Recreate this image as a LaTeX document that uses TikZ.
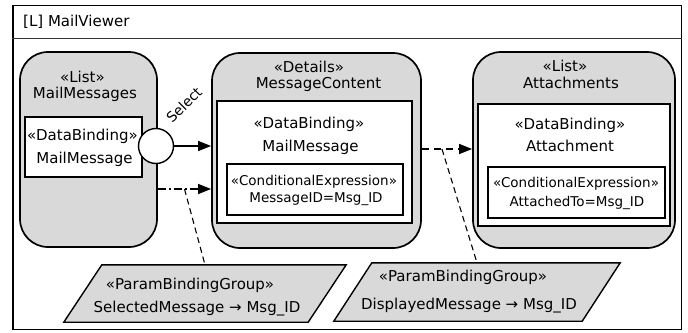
\documentclass[tikz,border=0pt]{standalone}
\usepackage{fontspec}
\setmainfont{DejaVu Sans}
\usetikzlibrary{arrows.meta,calc}
\definecolor{boxgray}{HTML}{D9D9D9}
\begin{document}
\begin{tikzpicture}[x=1pt,y=-1pt,
  frame/.style={draw, line width=1.3pt, fill=white, inner sep=0pt},
  viewbox/.style={draw, line width=1.7pt, fill=boxgray, rounded corners=28pt, inner sep=0pt},
  bindbox/.style={draw, line width=1.2pt, fill=white, inner sep=0pt},
  pgbox/.style={inner sep=0pt},
  pgshape/.style={draw, line width=1.4pt, fill=boxgray, line join=miter},
  txt/.style={font=\fontsize{15}{17}\selectfont, inner sep=0pt, anchor=base},
  smalltxt/.style={font=\fontsize{13.5}{16}\selectfont, inner sep=0pt, anchor=base},
  flow/.style={line width=1.3pt, -{Triangle[length=13pt,width=10pt]}},
  dashdotpat/.style={dash pattern=on 8pt off 3pt on 2pt off 3pt},
  link/.style={line width=1.1pt, dash pattern=on 6pt off 4pt},
  selcircle/.style={circle, draw, line width=1.4pt, fill=white, minimum size=35pt, inner sep=0pt}
]
\useasboundingbox (0,0) rectangle (688,332);

% outer frame with title compartment
\node[frame, minimum width=668.5pt, minimum height=324pt] (frame) at (347.25,167.5) {};
\coordinate (titleline) at (0,38.5);
\draw[line width=1.3pt, black!80] (frame.west |- titleline) -- (frame.east |- titleline);
\node[font=\fontsize{15}{17}\selectfont, inner sep=0pt, anchor=base west] (title) at (23,27) {[L] MailViewer};

% view containers
\node[viewbox, minimum width=137pt, minimum height=195pt] (mm) at (88.5,149.5) {};
\node[viewbox, minimum width=209pt, minimum height=195pt] (mc) at (316.5,150.5) {};
\node[viewbox, minimum width=202pt, minimum height=196pt] (at) at (574,150) {};

% data bindings
\node[bindbox, minimum width=117pt, minimum height=60pt] (mmb) at (83.5,147) {};
\node[bindbox, minimum width=195pt, minimum height=122pt] (mcb) at (314.5,162) {};
\node[bindbox, minimum width=192pt, minimum height=122pt] (atb) at (574,165) {};

% conditional expressions
\node[bindbox, minimum width=176pt, minimum height=51pt] (mcc) at (315,189.5) {};
\node[bindbox, minimum width=177pt, minimum height=51pt] (atc) at (576.5,192.5) {};

% labels of MailMessages
\node[txt] (mm1) at (82.5,82) {«List»};
\node[txt] (mm2) at (85,98.3) {MailMessages};
\node[txt] (mmb1) at (82.5,140) {«DataBinding»};
\node[txt] (mmb2) at (84.5,163.3) {MailMessage};

% labels of MessageContent
\node[txt] (mc1) at (309,72.3) {«Details»};
\node[txt] (mc2) at (318.5,88.3) {MessageContent};
\node[txt] (mcb1) at (309,128.3) {«DataBinding»};
\node[txt] (mcb2) at (310.5,151.7) {MailMessage};
\node[smalltxt] (mcc1) at (314,185) {«ConditionalExpression»};
\node[smalltxt] (mcc2) at (316,202.7) {MessageID=Msg\_ID};

% labels of Attachments
\node[txt] (at1) at (565,71) {«List»};
\node[txt] (at2) at (571,88.3) {Attachments};
\node[txt] (atb1) at (570,129.3) {«DataBinding»};
\node[txt] (atb2) at (570,151) {Attachment};
\node[smalltxt] (atc1) at (576,187.7) {«ConditionalExpression»};
\node[smalltxt] (atc2) at (577,206.7) {AttachedTo=Msg\_ID};

% parameter binding groups
\node[pgbox, minimum width=244pt, minimum height=57pt] (pg1) at (205,293.5) {};
\draw[pgshape] ([xshift=19pt]pg1.north west) -- ([xshift=19pt]pg1.north east)
  -- ([xshift=-19pt]pg1.south east) -- ([xshift=-19pt]pg1.south west) -- cycle;
\node[pgbox, minimum width=248pt, minimum height=58pt] (pg2) at (477,292) {};
\draw[pgshape] ([xshift=19pt]pg2.north west) -- ([xshift=19pt]pg2.north east)
  -- ([xshift=-19pt]pg2.south east) -- ([xshift=-19pt]pg2.south west) -- cycle;
\node[txt] (pg1a) at (190,289.3) {«ParamBindingGroup»};
\node[txt] (pg1b) at (197,312.7) {SelectedMessage → Msg\_ID};
\node[txt] (pg2a) at (463,281.7) {«ParamBindingGroup»};
\node[txt] (pg2b) at (469,309.3) {DisplayedMessage → Msg\_ID};

% connectors
\coordinate (ybind) at (0,189);
\coordinate (ydisp) at (0,149);
\node[selcircle] (sel) at (156,146) {};
\node[font=\fontsize{14}{16}\selectfont, inner sep=0pt, rotate=45] (sellabel) at (184,105) {Select};
\draw[flow] (sel.east) -- (mc.west |- sel.east);

\draw[flow, dashdotpat] (mm.east |- ybind) -- (mc.west |- ybind) coordinate[pos=0.5] (j1);
\draw[link] (j1) -- (pg1.north);

\draw[flow, dash pattern=on 7pt off 5pt] (mc.east |- ydisp) -- (at.west |- ydisp) coordinate[pos=0.4] (j2);
\draw[link] (j2) -- (pg2.north);
\end{tikzpicture}
\end{document}
